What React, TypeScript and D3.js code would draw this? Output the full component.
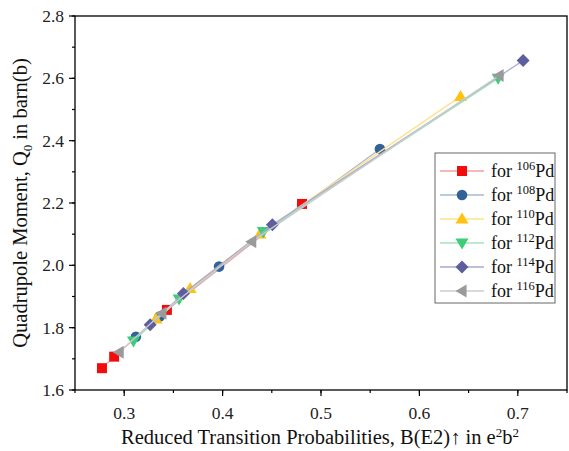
import * as d3 from 'd3';

// B(E2)↑ (e²b²) vs Q0 (b)
const isotopes = ['106', '108', '110', '112', '114', '116'];
const bE2_106 = [0.2774, 0.2898, 0.3434, 0.4807];
const q0_106 = [1.670, 1.707, 1.857, 2.197];
const bE2_108 = [0.3119, 0.336, 0.3964, 0.5599];
const q0_108 = [1.771, 1.836, 1.996, 2.373];
const bE2_110 = [0.3322, 0.367, 0.438, 0.6418];
const q0_110 = [1.828, 1.926, 2.101, 2.542];
const bE2_112 = [0.3094, 0.3558, 0.4414, 0.680];
const q0_112 = [1.757, 1.892, 2.108, 2.600];
const bE2_114 = [0.3264, 0.3602, 0.4506, 0.7054];
const q0_114 = [1.809, 1.910, 2.130, 2.657];
const bE2_116 = [0.2949, 0.3383, 0.4296, 0.681];
const q0_116 = [1.721, 1.846, 2.076, 2.609];

const xTicks = [0.3, 0.4, 0.5, 0.6, 0.7];
const yTicks = [1.6, 1.8, 2.0, 2.2, 2.4, 2.6, 2.8];

const W = 569;
const H = 451;
const margin = { top: 16, right: 2, bottom: 61, left: 75 };
const font = '"Liberation Serif", "Times New Roman", serif';

type Shape = 'square' | 'circle' | 'up' | 'down' | 'diamond' | 'left';

const series = [
  { iso: isotopes[0], xs: bE2_106, ys: q0_106, shape: 'square' as Shape, fill: '#f20d0d', line: '#f2a0a0' },
  { iso: isotopes[1], xs: bE2_108, ys: q0_108, shape: 'circle' as Shape, fill: '#336199', line: '#a6b8d3' },
  { iso: isotopes[2], xs: bE2_110, ys: q0_110, shape: 'up' as Shape, fill: '#ffc20e', line: '#ffe28a' },
  { iso: isotopes[3], xs: bE2_112, ys: q0_112, shape: 'down' as Shape, fill: '#3fcc78', line: '#a2e4bd' },
  { iso: isotopes[4], xs: bE2_114, ys: q0_114, shape: 'diamond' as Shape, fill: '#5e5e9e', line: '#a9a9cf' },
  { iso: isotopes[5], xs: bE2_116, ys: q0_116, shape: 'left' as Shape, fill: '#9a9a9a', line: '#cccccc' },
];

function Marker({ shape, x, y, fill }: { shape: Shape; x: number; y: number; fill: string }) {
  const s = 5;
  if (shape === 'square') return <rect x={x - s} y={y - s} width={2 * s} height={2 * s} fill={fill} />;
  if (shape === 'circle') return <circle cx={x} cy={y} r={5.3} fill={fill} />;
  const t = 6.5;
  let pts: [number, number][] = [];
  if (shape === 'up') pts = [[x, y - t], [x + t, y + t * 0.7], [x - t, y + t * 0.7]];
  if (shape === 'down') pts = [[x, y + t], [x + t, y - t * 0.7], [x - t, y - t * 0.7]];
  if (shape === 'left') pts = [[x - t, y], [x + t * 0.7, y - t], [x + t * 0.7, y + t]];
  if (shape === 'diamond') pts = [[x, y - 6.5], [x + 6.5, y], [x, y + 6.5], [x - 6.5, y]];
  return <polygon points={pts.map(p => p.join(',')).join(' ')} fill={fill} />;
}

export default function App() {
  const x = d3.scaleLinear().domain([0.25, 0.75]).range([margin.left, W - margin.right]);
  const y = d3.scaleLinear().domain([1.6, 2.8]).range([H - margin.bottom, margin.top]);
  const line = d3.line<[number, number]>().x(d => x(d[0])).y(d => y(d[1]));

  const x0 = margin.left;
  const x1 = W - margin.right;
  const y0 = H - margin.bottom;
  const y1 = margin.top;
  const xMinor = d3.range(0.25, 0.751, 0.05);
  const yMinor = d3.range(1.6, 2.801, 0.1);

  const legX = 435;
  const legY = 153;

  return (
    <svg width={W} height={H} style={{ position: 'absolute', left: 0, top: 0, background: '#fff' }}>
      <rect x={0} y={0} width={W} height={H} fill="#fff" />

      {series.map(s => {
        const pts = s.xs.map((v, i) => [v, s.ys[i]] as [number, number]);
        return (
          <g key={s.iso}>
            <path d={line(pts) || ''} fill="none" stroke={s.line} strokeWidth={1.3} />
            {pts.map((p, i) => (
              <Marker key={i} shape={s.shape} x={x(p[0])} y={y(p[1])} fill={s.fill} />
            ))}
          </g>
        );
      })}

      {/* frame */}
      <rect x={x0} y={y1} width={x1 - x0} height={y0 - y1} fill="none" stroke="#000" strokeWidth={1.3} />

      {/* x axis */}
      {xMinor.map(t => (
        <line key={t} x1={x(t)} x2={x(t)} y1={y0} y2={y0 + 3} stroke="#000" strokeWidth={1.2} />
      ))}
      {xTicks.map(t => (
        <g key={t}>
          <line x1={x(t)} x2={x(t)} y1={y0} y2={y0 + 6} stroke="#000" strokeWidth={1.2} />
          <text x={x(t)} y={y0 + 29} textAnchor="middle" fontFamily={font} fontSize={17.5} fill="#222">
            {t.toFixed(1)}
          </text>
        </g>
      ))}

      {/* y axis */}
      {yMinor.map(t => (
        <line key={t} x1={x0} x2={x0 - 3} y1={y(t)} y2={y(t)} stroke="#000" strokeWidth={1.2} />
      ))}
      {yTicks.map(t => (
        <g key={t}>
          <line x1={x0} x2={x0 - 6} y1={y(t)} y2={y(t)} stroke="#000" strokeWidth={1.2} />
          <text x={x0 - 11} y={y(t) + 6} textAnchor="end" fontFamily={font} fontSize={17.5} fill="#222">
            {t.toFixed(1)}
          </text>
        </g>
      ))}

      <text x={(x0 + x1) / 2 - 1} y={444} textAnchor="middle" fontFamily={font} fontSize={20.5} fill="#111">
        Reduced Transition Probabilities, B(E2)↑ in e
        <tspan dy={-7} fontSize={13}>2</tspan>
        <tspan dy={7}>b</tspan>
        <tspan dy={-7} fontSize={13}>2</tspan>
      </text>

      <text
        transform={`translate(27,${(y0 + y1) / 2}) rotate(-90)`}
        textAnchor="middle"
        fontFamily={font}
        fontSize={20.5}
        fill="#111"
      >
        Quadrupole Moment, Q<tspan dy={5} fontSize={13}>0</tspan>
        <tspan dy={-5}> in barn(b)</tspan>
      </text>

      {/* legend */}
      <rect x={legX} y={legY} width={120} height={150} fill="#fff" stroke="#666" strokeWidth={1} />
      {series.map((s, i) => {
        const cy = legY + 18 + i * 24;
        return (
          <g key={s.iso}>
            <line x1={legX + 5} x2={legX + 49} y1={cy} y2={cy} stroke={s.line} strokeWidth={1.3} />
            <Marker shape={s.shape} x={legX + 27} y={cy} fill={s.fill} />
            <text x={legX + 56} y={cy + 6} fontFamily={font} fontSize={18} fill="#111">
              for <tspan dy={-7} fontSize={12.5}>{s.iso}</tspan>
              <tspan dy={7}>Pd</tspan>
            </text>
          </g>
        );
      })}
    </svg>
  );
}
